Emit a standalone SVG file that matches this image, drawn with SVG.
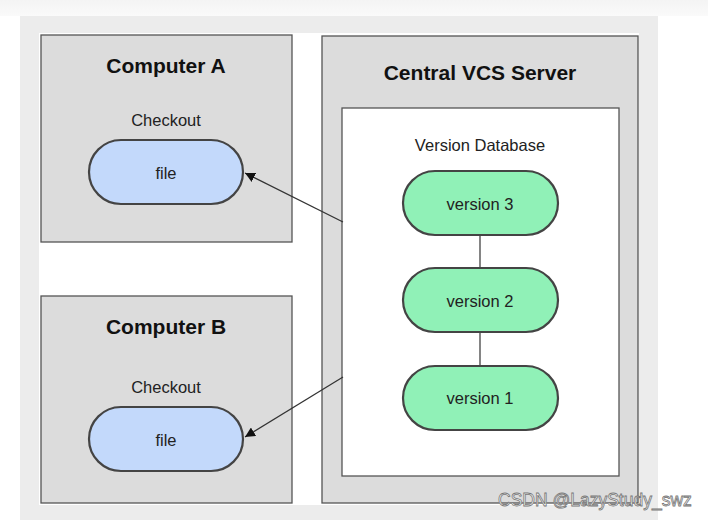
<svg xmlns="http://www.w3.org/2000/svg" width="708" height="520" viewBox="0 0 708 520">
<defs>
<linearGradient id="topband" x1="0" y1="0" x2="0" y2="1">
<stop offset="0" stop-color="#f4f4f4"/>
<stop offset="1" stop-color="#fafafa"/>
</linearGradient>
<marker id="arrow" viewBox="0 0 10 10" refX="10" refY="5" markerWidth="10" markerHeight="10" markerUnits="userSpaceOnUse" orient="auto">
<path d="M0,0 L10,5 L0,10 z" fill="#111"/>
</marker>
</defs>
<style>
.box{fill:#dcdcdc;stroke:#555;stroke-width:1.3}
.inner{fill:#fff;stroke:#555;stroke-width:1.3}
.file{fill:#c3d9fb;stroke:#444;stroke-width:2.2}
.ver{fill:#90f1b7;stroke:#444;stroke-width:2.2}
.title{font-family:"Liberation Sans",Arial,sans-serif;font-weight:bold;font-size:21px;fill:#111;text-anchor:middle}
.lbl{font-family:"Liberation Sans",Arial,sans-serif;font-size:16.5px;fill:#222;text-anchor:middle}
.conn{stroke:#333;stroke-width:1.2;fill:none}
.wm{font-family:"Liberation Sans",Arial,sans-serif;font-size:17.5px;fill:#fff;stroke:#777;stroke-width:0.8}
</style>
<rect x="0" y="0" width="708" height="520" fill="#fff"/>
<rect x="0" y="0" width="708" height="16" fill="url(#topband)"/>
<rect x="20" y="16" width="638" height="504" fill="#ececec"/>
<rect x="39" y="33" width="600" height="472" fill="#fff"/>

<g id="computer-a">
<rect class="box" x="41" y="35" width="251" height="207"/>
<text class="title" x="166" y="73">Computer A</text>
<text class="lbl" x="166" y="125.5">Checkout</text>
<g id="file-a">
<rect class="file" x="89" y="140" width="154" height="64" rx="32" ry="32"/>
<text class="lbl" x="166" y="179">file</text>
</g>
</g>

<g id="computer-b">
<rect class="box" x="41" y="296" width="251" height="207"/>
<text class="title" x="166" y="334">Computer B</text>
<text class="lbl" x="166" y="392.5">Checkout</text>
<g id="file-b">
<rect class="file" x="89" y="407" width="154" height="64" rx="32" ry="32"/>
<text class="lbl" x="166" y="446">file</text>
</g>
</g>

<g id="server">
<rect class="box" x="322" y="36" width="316" height="467"/>
<text class="title" x="480" y="80">Central VCS Server</text>
<g id="version-database">
<rect class="inner" x="342" y="108" width="277" height="368"/>
<text class="lbl" x="480" y="151">Version Database</text>
</g>
</g>

<g id="connectors">
<line class="conn" x1="343" y1="222" x2="245" y2="173" marker-end="url(#arrow)"/>
<line class="conn" x1="343" y1="377" x2="245" y2="437" marker-end="url(#arrow)"/>
<line class="conn" x1="480" y1="235" x2="480" y2="268"/>
<line class="conn" x1="480" y1="332" x2="480" y2="366"/>
</g>

<g id="version-3">
<rect class="ver" x="403" y="171" width="155" height="64" rx="32" ry="32"/>
<text class="lbl" x="480" y="210">version 3</text>
</g>
<g id="version-2">
<rect class="ver" x="403" y="268" width="155" height="64" rx="32" ry="32"/>
<text class="lbl" x="480" y="307">version 2</text>
</g>
<g id="version-1">
<rect class="ver" x="403" y="366" width="155" height="64" rx="32" ry="32"/>
<text class="lbl" x="480" y="404">version 1</text>
</g>

<text class="wm" x="498" y="506">CSDN @LazyStudy_swz</text>
</svg>
